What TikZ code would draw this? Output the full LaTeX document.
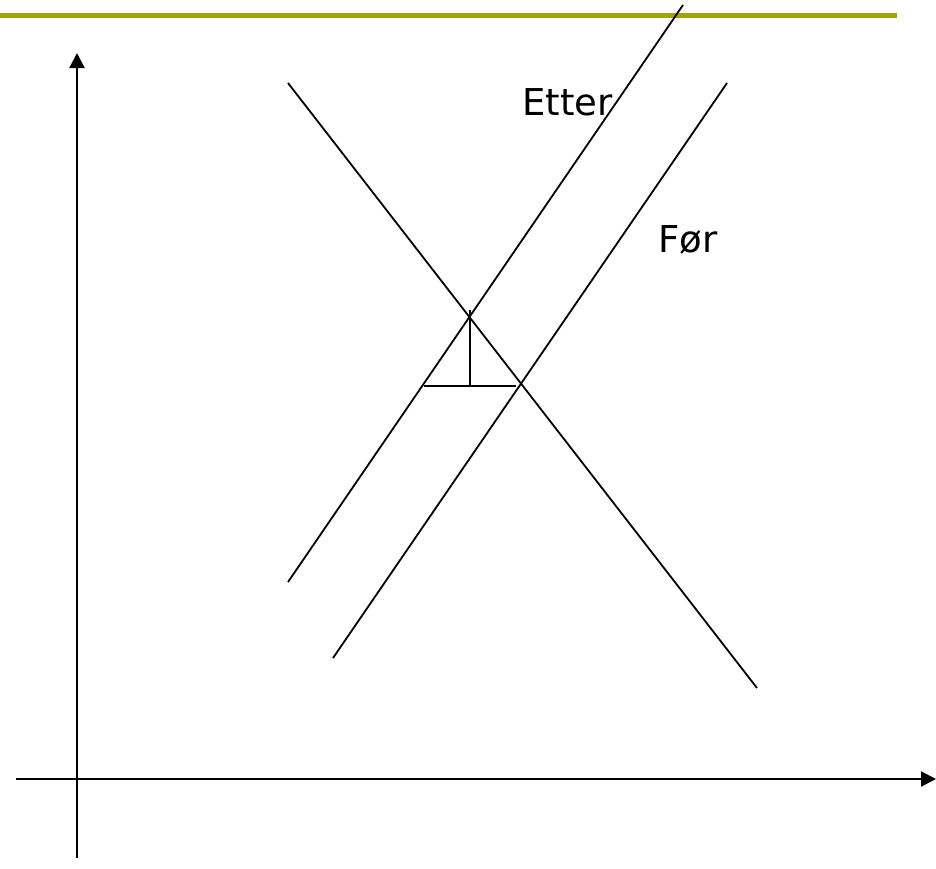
\documentclass[tikz,border=0pt]{standalone}
\usepackage{fontspec}
\setmainfont{DejaVu Sans}
\usetikzlibrary{arrows.meta}
\definecolor{barolive}{RGB}{163,163,0}
\begin{document}
\begin{tikzpicture}[x=1pt,y=-1pt,
  axis/.style={line width=2.2pt,-{Triangle[length=15pt,width=15pt]}},
  curve/.style={line width=1.8pt},
  mark line/.style={line width=2.2pt},
  lbl/.style={anchor=base west,inner sep=0pt,font=\fontsize{37}{40}\selectfont}]
\useasboundingbox (0,0) rectangle (936,868);
\fill[white] (0,0) rectangle (936,868);
% top bar
\coordinate (barL) at (0,15);
\coordinate (barR) at (897,15);
\draw[barolive,line width=5pt] (barL) -- (barR);
% axes
\coordinate (yb) at (77,858);
\coordinate (yt) at (77,53);
\coordinate (xl) at (16,779);
\coordinate (xr) at (936,779);
\draw[axis] (yb) -- (yt);
\draw[axis] (xl) -- (xr);
% demand
\coordinate (d1) at (288,83);
\coordinate (d2) at (757,688);
\draw[curve] (d1) -- (d2);
% Etter
\coordinate (e1) at (288,582);
\coordinate (e2) at (683,5);
\draw[curve] (e1) -- (e2);
% Foer
\coordinate (f1) at (333,658);
\coordinate (f2) at (727,83);
\draw[curve] (f1) -- (f2);
% triangle
\coordinate (v1) at (470,310);
\coordinate (v2) at (470,386);
\coordinate (h1) at (424,386);
\coordinate (h2) at (516,386);
\draw[mark line] (v1) -- (v2);
\draw[mark line] (h1) -- (h2);
% labels
\node[lbl] (etter) at (522,115) {Etter};
\node[lbl] (foer) at (658,252) {Før};
\end{tikzpicture}
\end{document}
